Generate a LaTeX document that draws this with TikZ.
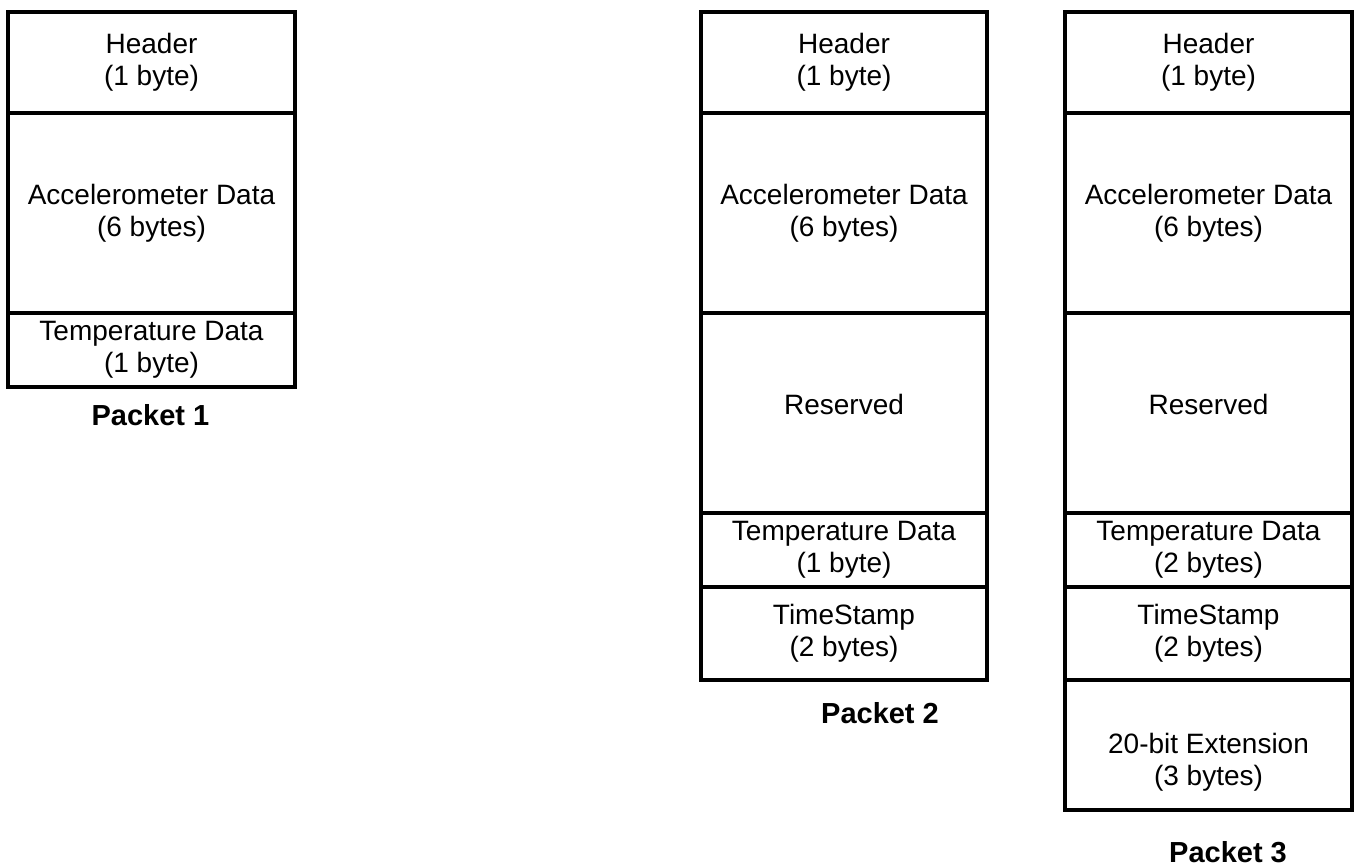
\documentclass[tikz,border=0pt]{standalone}
\usepackage{fontspec}
\setmainfont{Liberation Sans}
\newcommand\fieldfont{\fontsize{28}{32}\selectfont}
\newcommand\labfont{\fontsize{29}{33}\selectfont\bfseries}
\begin{document}
\begin{tikzpicture}[x=1pt,y=-1pt,
  field/.style={draw, line width=3.5pt, inner sep=0pt, align=center, font=\fieldfont},
  ftext/.style={inner sep=0pt, align=center, font=\fieldfont},
  plabel/.style={inner sep=0pt, font=\labfont}]
\useasboundingbox (0,0) rectangle (1360,867);
% Packet 1
\node[field, minimum width=287pt, minimum height=101pt] (p1h) at (151.5,62.5) {Header\\(1 byte)};
\node[field, minimum width=287pt, minimum height=200pt] (p1a) at (151.5,213) {Accelerometer Data\\(6 bytes)};
\node[field, minimum width=287pt, minimum height=74pt] (p1t) at (151.5,350) {Temperature Data\\(1 byte)};
\node[plabel] (p1l) at (150.5,415) {Packet 1};
% Packet 2
\node[field, minimum width=286pt, minimum height=101pt] (p2h) at (844,62.5) {Header\\(1 byte)};
\node[field, minimum width=286pt, minimum height=200pt] (p2a) at (844,213) {Accelerometer Data\\(6 bytes)};
\node[field, minimum width=286pt, minimum height=200pt] (p2r) at (844,413) {};
\node[ftext] (p2rt) at (844,404) {Reserved};
\node[field, minimum width=286pt, minimum height=74pt] (p2t) at (844,550) {Temperature Data\\(1 byte)};
\node[field, minimum width=286pt, minimum height=93pt] (p2s) at (844,633.5) {TimeStamp\\(2 bytes)};
\node[plabel] (p2l) at (880,713) {Packet 2};
% Packet 3
\node[field, minimum width=287pt, minimum height=101pt] (p3h) at (1208.5,62.5) {Header\\(1 byte)};
\node[field, minimum width=287pt, minimum height=200pt] (p3a) at (1208.5,213) {Accelerometer Data\\(6 bytes)};
\node[field, minimum width=287pt, minimum height=200pt] (p3r) at (1208.5,413) {};
\node[ftext] (p3rt) at (1208.5,404) {Reserved};
\node[field, minimum width=287pt, minimum height=74pt] (p3t) at (1208.5,550) {Temperature Data\\(2 bytes)};
\node[field, minimum width=287pt, minimum height=93pt] (p3s) at (1208.5,633.5) {TimeStamp\\(2 bytes)};
\node[field, minimum width=287pt, minimum height=130pt] (p3e) at (1208.5,745) {};
\node[ftext] (p3et) at (1208.5,762) {20-bit Extension\\(3 bytes)};
\node[plabel] (p3l) at (1228,852) {Packet 3};
\end{tikzpicture}
\end{document}
